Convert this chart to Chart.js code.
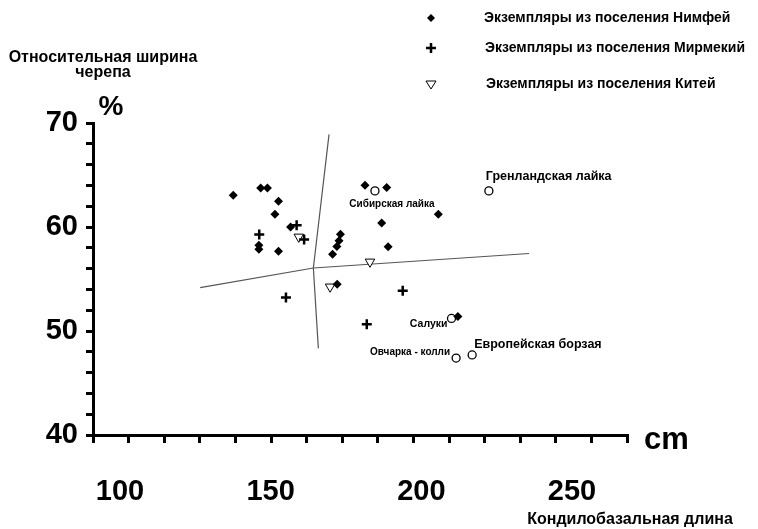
<!DOCTYPE html>
<html>
<head>
<meta charset="utf-8">
<script src="https://cdn.jsdelivr.net/npm/chart.js@4.4.1/dist/chart.umd.min.js"></script>
<style>
  html, body { margin: 0; padding: 0; background: #fff; }
  canvas { display: block; }
</style>
</head>
<body>
<canvas id="chart" width="758" height="529"></canvas>
<script>
const FONT = '"Liberation Sans", Arial, sans-serif';

// condylobasal length (x) and relative skull width, % (y)
const nymphaeumX = [139.4, 147.1, 149.0, 152.1, 151.1, 155.5, 146.6, 146.6, 152.1,
    176.4, 182.5, 197.0, 181.1, 182.9, 169.5, 169.1, 168.5, 167.3, 168.6, 202.5];
const nymphaeumY = [63.05, 63.76, 63.76, 62.48, 61.23, 60.01, 58.25, 57.87, 57.68,
    64.02, 63.79, 61.23, 60.39, 58.09, 59.31, 58.68, 58.13, 57.39, 54.5, 51.4];

const myrmekionX = [157.2, 146.7, 159.3, 154.2, 187.0, 176.9];
const myrmekionY = [60.17, 59.28, 58.8, 53.23, 53.86, 50.66];

const kytaionX = [157.8, 177.8, 166.6];
const kytaionY = [59.05, 56.65, 54.25];

const breedNames = ['Сибирская лайка', 'Гренландская лайка', 'Салуки',
    'Овчарка - колли', 'Европейская борзая'];
const breedX = [179.2, 211.2, 200.7, 202.0, 206.5];
const breedY = [63.47, 63.47, 51.21, 47.4, 47.7];

// the two dividing lines, both broken at the crossing
const vLineX = [166.3, 161.9, 163.3];
const vLineY = [68.9, 56.06, 48.33];
const hLineX = [130.1, 161.9, 222.5];
const hLineY = [54.17, 56.06, 57.45];

const seriesNames = ['Экземпляры из поселения Нимфей',
    'Экземпляры из поселения Мирмекий',
    'Экземпляры из поселения Китей'];

// the printed numbers under the axis run on their own, tighter spacing
const xLabels = [100, 150, 200, 250];
const xLabelRange = [91.04, 268.25];

const zip = (xs, ys) => xs.map((x, i) => ({ x, y: ys[i] }));

// label placement next to each breed point: dx, dy, align, font size
const breedLabelPos = [
    [17, 13, 'center', 10],
    [-3, -14, 'left', 12.5],
    [-4, 6, 'right', 10.5],
    [-6, -6, 'right', 10],
    [2, -10, 'left', 12.5]
];

function drawMarker(ctx, style, cx, cy) {
    ctx.save();
    ctx.strokeStyle = '#000';
    ctx.fillStyle = '#000';
    ctx.beginPath();
    if (style === 'diamond') {
        ctx.moveTo(cx, cy - 4); ctx.lineTo(cx + 4, cy);
        ctx.lineTo(cx, cy + 4); ctx.lineTo(cx - 4, cy);
        ctx.closePath(); ctx.fill();
    } else if (style === 'plus') {
        ctx.lineWidth = 2.5;
        ctx.moveTo(cx - 5, cy); ctx.lineTo(cx + 5, cy);
        ctx.moveTo(cx, cy - 5); ctx.lineTo(cx, cy + 5);
        ctx.stroke();
    } else {
        ctx.lineWidth = 1;
        ctx.moveTo(cx - 5, cy - 3); ctx.lineTo(cx + 5, cy - 3);
        ctx.lineTo(cx, cy + 5); ctx.closePath();
        ctx.stroke();
    }
    ctx.restore();
}

const textPlugin = {
    id: 'texts',
    afterDraw(chart) {
        const { ctx } = chart;
        const x = chart.scales.x, y = chart.scales.y;
        ctx.save();
        ctx.fillStyle = '#000';

        ctx.textBaseline = 'middle';
        breedNames.forEach((name, i) => {
            const [dx, dy, align, size] = breedLabelPos[i];
            ctx.font = `bold ${size}px ${FONT}`;
            ctx.textAlign = align;
            ctx.fillText(name, x.getPixelForValue(breedX[i]) + dx,
                y.getPixelForValue(breedY[i]) + dy);
        });

        // legend
        const markers = ['diamond', 'plus', 'triangle'];
        const rows = [18, 48, 84];
        ctx.font = `bold 14px ${FONT}`;
        ctx.textAlign = 'left';
        seriesNames.forEach((name, i) => {
            drawMarker(ctx, markers[i], 431, rows[i]);
            ctx.fillText(name, 484 + i, rows[i]);
        });

        // axis captions
        ctx.font = `bold 16px ${FONT}`;
        ctx.textAlign = 'center';
        ctx.fillText('Относительная ширина', 103, 58);
        ctx.fillText('черепа', 103, 73);
        ctx.fillText('Кондилобазальная длина', 630, 520);
        ctx.font = `bold 28px ${FONT}`;
        ctx.fillText('%', 111, 107);
        ctx.font = `bold 31px ${FONT}`;
        ctx.textAlign = 'left';
        ctx.fillText('cm', 644, 440);
        ctx.restore();
    }
};

const axisFont = { family: FONT, size: 29, weight: 'bold' };

new Chart(document.getElementById('chart'), {
    type: 'scatter',
    data: {
        datasets: [
            {
                label: seriesNames[0],
                data: zip(nymphaeumX, nymphaeumY),
                pointStyle: 'rectRot',
                pointRadius: 4.5,
                backgroundColor: '#000',
                borderColor: '#000',
                borderWidth: 0
            },
            {
                label: seriesNames[1],
                data: zip(myrmekionX, myrmekionY),
                pointStyle: 'cross',
                pointRadius: 5,
                borderColor: '#000',
                borderWidth: 2.5
            },
            {
                label: seriesNames[2],
                data: zip(kytaionX, kytaionY),
                pointStyle: 'triangle',
                rotation: 180,
                pointRadius: 5.5,
                backgroundColor: '#fff',
                borderColor: '#000',
                borderWidth: 1
            },
            {
                label: 'Породы',
                data: zip(breedX, breedY),
                pointStyle: 'circle',
                pointRadius: 4,
                backgroundColor: '#fff',
                borderColor: '#000',
                borderWidth: 1.3
            },
            {
                label: 'v',
                data: zip(vLineX, vLineY),
                showLine: true,
                pointRadius: 0,
                borderColor: '#555',
                borderWidth: 1.2
            },
            {
                label: 'h',
                data: zip(hLineX, hLineY),
                showLine: true,
                pointRadius: 0,
                borderColor: '#555',
                borderWidth: 1.2
            }
        ]
    },
    options: {
        responsive: false,
        animation: false,
        events: [],
        layout: { padding: { top: 123, right: 131, left: 0, bottom: 0 } },
        scales: {
            x: {
                type: 'linear',
                position: 'bottom',
                weight: 0,
                min: 100,
                max: 250,
                border: { color: '#000', width: 3 },
                grid: { drawOnChartArea: false, color: '#000', tickLength: 8, lineWidth: 3 },
                ticks: { stepSize: 10, display: false, autoSkip: false },
                afterFit: (s) => { s.height = 10; }
            },
            xl: {
                type: 'linear',
                position: 'bottom',
                weight: 1,
                min: xLabelRange[0],
                max: xLabelRange[1],
                border: { display: false },
                grid: { display: false, drawTicks: false },
                ticks: {
                    autoSkip: false,
                    maxRotation: 0,
                    padding: 30,
                    color: '#000',
                    font: axisFont
                },
                afterBuildTicks: (s) => { s.ticks = xLabels.map(v => ({ value: v })); },
                afterFit: (s) => { s.height = 84; }
            },
            y: {
                min: 40,
                max: 70,
                border: { color: '#000', width: 3 },
                grid: { drawOnChartArea: false, color: '#000', tickLength: 7, lineWidth: 3 },
                ticks: {
                    stepSize: 2,
                    autoSkip: false,
                    padding: 8,
                    color: '#000',
                    font: axisFont,
                    callback: (v) => (v % 10 === 0 ? v : '')
                },
                afterFit: (s) => { s.width = 93; }
            }
        },
        plugins: {
            legend: { display: false },
            tooltip: { enabled: false }
        }
    },
    plugins: [textPlugin]
});
</script>
</body>
</html>
